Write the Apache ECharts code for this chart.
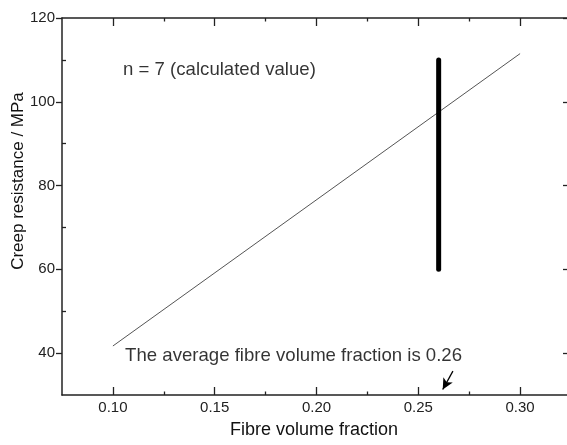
<!DOCTYPE html>
<html>
<head>
<meta charset="utf-8">
<script src="https://cdn.jsdelivr.net/npm/echarts@6/dist/echarts.min.js"></script>
<style>
html,body{margin:0;padding:0;background:#fff;}
#chart{width:567px;height:445px;}
</style>
</head>
<body>
<div id="chart"></div>
<script>
// ---- data ----
const xRange = [0.075, 0.325];
const yRange = [30, 120];
const xTicks = [0.10, 0.15, 0.20, 0.25, 0.30];
const xMinorTicks = [0.125, 0.175, 0.225, 0.275];
const yTicks = [40, 60, 80, 100, 120];
const yMinorTicks = [50, 70, 90, 110];
const fitX = [0.10, 0.30];
const fitY = [41.7, 111.5];
const avgFraction = 0.26;
const rangeY = [60, 110];
const arrowX = [0.267, 0.262];
const arrowY = [35.7, 31.3];
const note1 = { x: 0.105, y: 107.5, text: 'n = 7 (calculated value)' };
const note2 = { x: 0.106, y: 39.4, text: 'The average fibre volume fraction is 0.26' };
const xTitle = 'Fibre volume fraction';
const yTitle = 'Creep resistance / MPa';

const FONT = 'Liberation Sans, Arial, sans-serif';
const AX = '#222';
const lineStyle = { color: AX, width: 1.5 };

function xAxis(pos, major, showLine) {
  return {
    type: 'value', position: pos, min: xRange[0], max: xRange[1],
    axisLine: { show: showLine, onZero: false, lineStyle },
    axisTick: { show: true, inside: true, length: major ? 8 : 3.5,
      customValues: major ? xTicks : xMinorTicks, lineStyle: { color: AX, width: 1.3 } },
    axisLabel: (pos === 'bottom' && major) ? {
      show: true, customValues: xTicks, margin: 5, color: '#222',
      fontFamily: FONT, fontSize: 15, formatter: v => v.toFixed(2)
    } : { show: false },
    splitLine: { show: false }
  };
}
function yAxis(pos, major, showLine) {
  const left = pos === 'left';
  return {
    type: 'value', position: pos, min: yRange[0], max: yRange[1],
    axisLine: { show: showLine, onZero: false, lineStyle },
    axisTick: { show: true, inside: !(left && major),
      length: major ? (left ? 6 : 8) : 4,
      customValues: major ? yTicks : yMinorTicks, lineStyle: { color: AX, width: 1.3 } },
    axisLabel: (left && major) ? {
      show: true, customValues: yTicks, margin: 7, color: '#222',
      fontFamily: FONT, fontSize: 15
    } : { show: false },
    splitLine: { show: false }
  };
}

const chart = echarts.init(document.getElementById('chart'), null, { renderer: 'canvas' });
chart.setOption({
  animation: false,
  backgroundColor: '#fff',
  grid: { left: 62, top: 18, width: 509, height: 377, containLabel: false, outerBoundsMode: 'none' },
  xAxis: [xAxis('bottom', true, true), xAxis('bottom', false, false),
          xAxis('top', true, true), xAxis('top', false, false)],
  yAxis: [yAxis('left', true, true), yAxis('left', false, false),
          yAxis('right', true, true), yAxis('right', false, false)],
  graphic: [
    { type: 'text', x: 18, y: 181, rotation: Math.PI / 2,
      style: { text: yTitle, font: '17px ' + FONT, fill: '#111', align: 'center', verticalAlign: 'middle' } },
    { type: 'text', x: 314, y: 430,
      style: { text: xTitle, font: '18px ' + FONT, fill: '#111', align: 'center', verticalAlign: 'middle' } }
  ],
  series: [
    {
      type: 'line', xAxisIndex: 0, yAxisIndex: 0, symbol: 'none',
      data: fitX.map((x, i) => [x, fitY[i]]),
      lineStyle: { color: '#555', width: 1 }
    },
    {
      type: 'line', xAxisIndex: 0, yAxisIndex: 0, symbol: 'none',
      data: rangeY.map(y => [avgFraction, y]),
      lineStyle: { color: '#000', width: 5, cap: 'round' },
      markLine: {
        silent: true, animation: false,
        symbol: ['none', 'arrow'], symbolSize: [8, 11],
        label: { show: false },
        lineStyle: { color: '#000', width: 1.3, type: 'solid' },
        data: [[{ coord: [arrowX[0], arrowY[0]] }, { coord: [arrowX[1], arrowY[1]] }]]
      }
    },
    {
      type: 'scatter', xAxisIndex: 0, yAxisIndex: 0, symbolSize: 0, silent: true,
      data: [[note1.x, note1.y, note1.text], [note2.x, note2.y, note2.text]],
      label: {
        show: true, position: 'right', distance: 0,
        formatter: p => p.data[2],
        fontFamily: FONT, fontSize: 18.6, color: '#000', verticalAlign: 'middle'
      }
    }
  ]
});
</script>
</body>
</html>
